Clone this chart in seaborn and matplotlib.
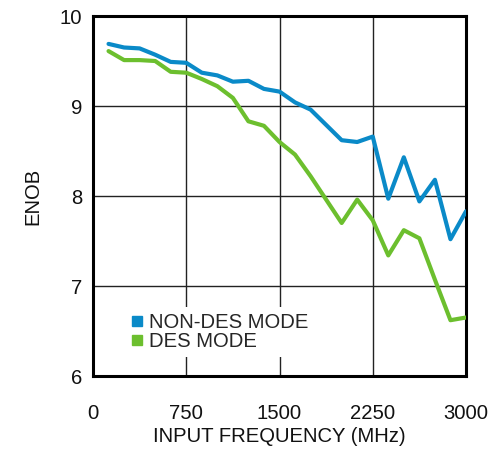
import numpy as np
import pandas as pd
import matplotlib
matplotlib.use("Agg")
import matplotlib.pyplot as plt
from matplotlib.lines import Line2D
import seaborn as sns

freq = [125, 250, 375, 500, 625, 750, 875, 1000, 1125, 1250, 1375, 1500,
        1625, 1750, 1875, 2000, 2125, 2250, 2375, 2500, 2625, 2750, 2875, 3000]
non_des = [9.69, 9.65, 9.64, 9.57, 9.49, 9.48, 9.37, 9.34, 9.27, 9.28, 9.19, 9.16,
           9.04, 8.96, 8.79, 8.62, 8.60, 8.66, 7.97, 8.43, 7.94, 8.18, 7.52, 7.83]
des = [9.61, 9.51, 9.51, 9.50, 9.38, 9.37, 9.30, 9.22, 9.09, 8.83, 8.78, 8.60,
       8.46, 8.22, 7.96, 7.70, 7.96, 7.73, 7.34, 7.62, 7.53, 7.07, 6.62, 6.65]
series_names = ["NON-DES MODE", "DES MODE"]
colors = ["#0A8AC8", "#6CBF2E"]
xticks = [0, 750, 1500, 2250, 3000]
yticks = [6, 7, 8, 9, 10]

df = pd.DataFrame({
    "freq": freq * 2,
    "enob": non_des + des,
    "mode": [series_names[0]] * len(freq) + [series_names[1]] * len(freq),
})

sns.set_style("white")
plt.rcParams["font.family"] = ["Liberation Sans", "DejaVu Sans"]

FS = 14.6
fig = plt.figure(figsize=(4.96, 4.53), dpi=100)
ax = fig.add_axes([93 / 496, 1 - 376 / 453, (466 - 93) / 496, (376 - 16) / 453])

sns.lineplot(data=df, x="freq", y="enob", hue="mode", palette=colors,
             hue_order=series_names, linewidth=3, ax=ax, legend=False, zorder=3)

ax.set_xlim(0, 3000)
ax.set_ylim(6, 10)
ax.set_xticks(xticks)
ax.set_yticks(yticks)
ax.set_xticklabels([str(t) for t in xticks])
ax.set_yticklabels([str(t) for t in yticks])
ax.grid(True, color="#222222", linewidth=1.0)
ax.set_axisbelow(True)
ax.tick_params(axis="x", length=0, pad=20, labelsize=FS, colors="#111111")
ax.tick_params(axis="y", length=0, pad=8, labelsize=FS, colors="#111111")
for sp in ax.spines.values():
    sp.set_visible(True)
    sp.set_color("black")
    sp.set_linewidth(2.2)

ax.set_xlabel("INPUT FREQUENCY (MHz)", fontsize=FS, labelpad=3, color="#111111")
ax.set_ylabel("ENOB", fontsize=FS, labelpad=12, color="#111111")

handles = [Line2D([], [], marker="s", linestyle="none", markersize=7.5,
                  markerfacecolor=c, markeredgecolor=c) for c in colors]
leg = ax.legend(handles, series_names, loc="upper left",
                bbox_to_anchor=(0.08, 0.192), frameon=True, fancybox=False,
                framealpha=1, facecolor="white", edgecolor="none",
                fontsize=FS, handlelength=0.8, handletextpad=0.2,
                labelspacing=0.0, borderpad=0.3, borderaxespad=0)
leg.set_zorder(5)

fig.savefig("out.png", dpi=100)
